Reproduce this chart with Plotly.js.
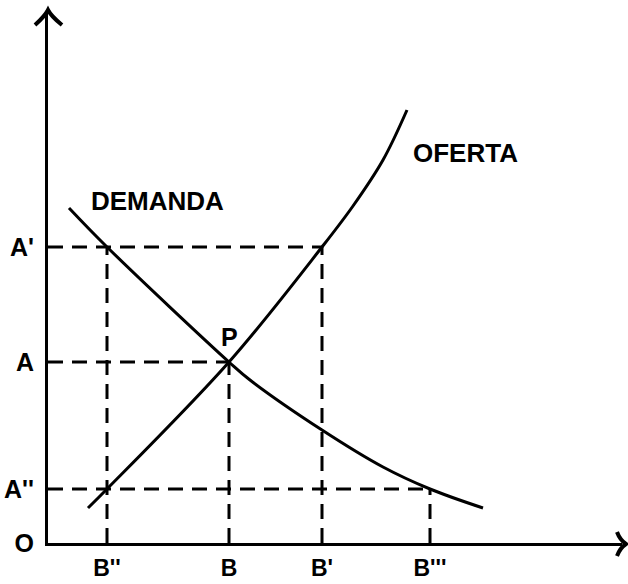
<!DOCTYPE html>
<html><head><meta charset="utf-8">
<script src="https://cdn.plot.ly/plotly-3.0.1.min.js"></script>
<style>html,body{margin:0;padding:0;background:#fff;}</style>
</head><body><div id="chart" style="width:628px;height:584px;"></div>
<script>
// Quantity axis ticks (B'', B, B', B''') and price axis ticks (O, A'', A, A')
const quantityTicks = [59, 181, 274, 382];
const quantityLabels = ["B''", "B", "B'", "B'''"];
const priceTicks = [0, 54, 181, 296];
const priceLabels = ["O", "A''", "A", "A'"];

// Demand curve (DEMANDA)
const demandQ = [21, 59, 181, 202, 274, 335, 382, 435];
const demandP = [335, 296, 181, 163, 113, 76, 54, 35];

// Supply curve (OFERTA)
const supplyQ = [40, 59, 181, 274, 305, 335, 359];
const supplyP = [35, 54, 181, 296, 337, 383, 433];

// Named reference values
const qB2 = quantityTicks[0], qB = quantityTicks[1], qB1 = quantityTicks[2], qB3 = quantityTicks[3];
const pA2 = priceTicks[1], pA = priceTicks[2], pA1 = priceTicks[3];

const xMax = 574, yMax = 531;
const FONT = "Liberation Sans, Arial, sans-serif";

const dashStyle = {color: '#000', width: 3, dash: '15px,9px'};
const guides = [
  [[0, qB1], [pA1, pA1]],
  [[0, qB], [pA, pA]],
  [[0, qB3], [pA2, pA2]],
  [[qB2, qB2], [0, pA1]],
  [[qB, qB], [0, pA]],
  [[qB1, qB1], [0, pA1]],
  [[qB3, qB3], [0, pA2]]
];
const traces = guides.map(g => ({
  x: g[0], y: g[1], mode: 'lines', line: dashStyle, hoverinfo: 'skip', showlegend: false
}));
traces.push({x: demandQ, y: demandP, mode: 'lines', line: {color: '#000', width: 3, shape: 'spline', smoothing: 1}, showlegend: false});
traces.push({x: supplyQ, y: supplyP, mode: 'lines', line: {color: '#000', width: 3, shape: 'spline', smoothing: 1}, showlegend: false});

// arrowheads in paper coords (decoration)
const L = 48, T = 12, W = 574, H = 531;
const px = v => (v - L) / W;
const py = v => (T + H - v) / H;
const arrowLine = {color: '#000', width: 4};
const shapes = [
  {type: 'path', xref: 'paper', yref: 'paper', line: arrowLine,
   path: `M ${px(35)} ${py(25)} Q ${px(45)} ${py(16)} ${px(48)} ${py(10)} Q ${px(51)} ${py(16)} ${px(62)} ${py(25)}`},
  {type: 'path', xref: 'paper', yref: 'paper', line: arrowLine,
   path: `M ${px(617)} ${py(532)} Q ${px(620)} ${py(540)} ${px(626)} ${py(544)} Q ${px(620)} ${py(548)} ${px(617)} ${py(556)}`}
];

const layout = {
  width: 628, height: 584,
  margin: {l: 48, r: 6, t: 12, b: 41, pad: 0},
  paper_bgcolor: '#fff', plot_bgcolor: '#fff',
  showlegend: false,
  xaxis: {
    range: [0, xMax], showgrid: false, zeroline: false,
    showline: true, linecolor: '#000', linewidth: 3,
    tickmode: 'array', tickvals: quantityTicks, ticktext: quantityLabels,
    ticks: '', ticklabelstandoff: 2,
    tickfont: {family: FONT, size: 23, color: '#000', weight: 'bold'},
    fixedrange: true
  },
  yaxis: {
    range: [0, yMax], showgrid: false, zeroline: false,
    showline: true, linecolor: '#000', linewidth: 3,
    tickmode: 'array', tickvals: priceTicks, ticktext: priceLabels,
    ticks: '', ticklabelstandoff: 6,
    tickfont: {family: FONT, size: 25, color: '#000', weight: 'bold'},
    fixedrange: true
  },
  shapes: shapes,
  annotations: [
    {x: 109, y: 342, xref: 'x', yref: 'y', text: 'DEMANDA', showarrow: false,
     font: {family: FONT, size: 26, color: '#000', weight: 'bold'}},
    {x: 417, y: 390, xref: 'x', yref: 'y', text: 'OFERTA', showarrow: false,
     font: {family: FONT, size: 26, color: '#000', weight: 'bold'}},
    {x: qB, y: pA, xref: 'x', yref: 'y', yshift: 25, text: 'P', showarrow: false,
     font: {family: FONT, size: 25, color: '#000', weight: 'bold'}}
  ]
};
Plotly.newPlot('chart', traces, layout, {displayModeBar: false, staticPlot: true});
</script></body></html>
